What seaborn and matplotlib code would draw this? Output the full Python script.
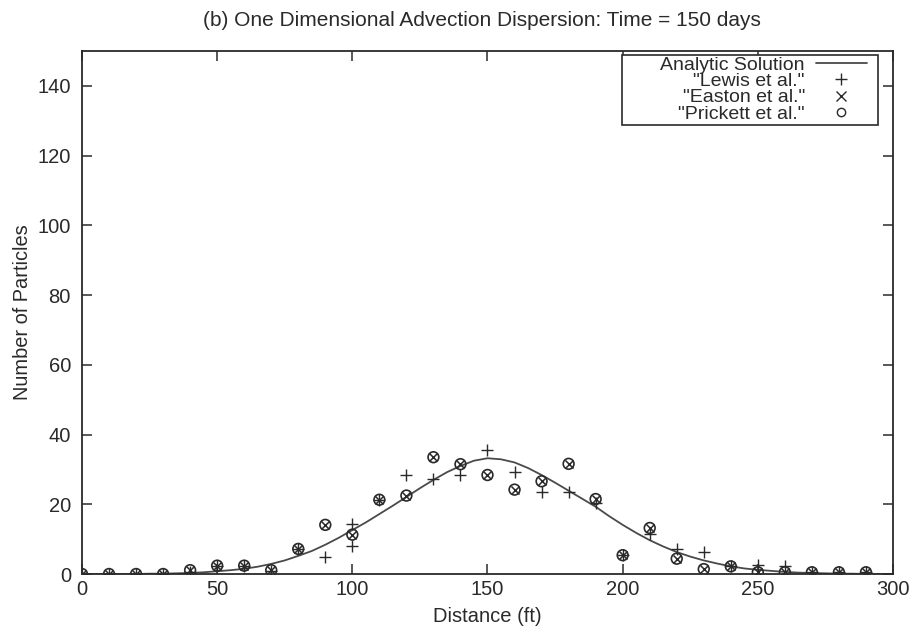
import matplotlib
matplotlib.use("Agg")
import matplotlib.pyplot as plt
from matplotlib.lines import Line2D
from matplotlib.patches import Rectangle
import seaborn as sns

# Analytic solution sampled every 5 ft
curve_x = list(range(0, 305, 5))
curve_y = [0.0, 0.0, 0.0, 0.0, 0.0, 0.1, 0.1, 0.2, 0.3, 0.5,
           0.8, 1.1, 1.5, 2.1, 2.9, 3.9, 5.2, 6.6, 8.4, 10.4,
           12.6, 14.8, 17.2, 19.6, 22.1, 24.6, 27.0, 29.2, 31.0, 32.5,
           33.2, 32.9, 32.0, 30.4, 28.4, 26.2, 23.9, 21.6, 19.3, 16.6,
           14.1, 11.8, 9.7, 7.9, 6.3, 5.0, 3.9, 3.0, 2.2, 1.6,
           1.2, 0.9, 0.6, 0.4, 0.3, 0.2, 0.1, 0.1, 0.0, 0.0, 0.0]

# Lewis et al. particle counts
lewis_x = [0, 10, 20, 30, 40, 50, 60, 70, 80, 90, 100, 100, 110, 120, 130,
           140, 150, 160, 170, 180, 190, 200, 210, 220, 230, 240, 250, 260,
           270, 280, 290]
lewis_y = [0.0, 0.0, 0.0, 0.0, 0.5, 2.2, 2.2, 1.0, 7.2, 5.0, 14.3, 8.1, 21.3,
           28.5, 27.2, 28.5, 35.6, 29.4, 23.4, 23.4, 20.5, 5.4, 11.6, 7.2, 6.2,
           2.4, 2.6, 2.4, 0.5, 0.5, 0.5]

# Easton et al. and Prickett et al. particle counts
ep_x = [0, 10, 20, 30, 40, 50, 60, 70, 80, 90, 100, 110, 120, 130, 140, 150,
        160, 170, 180, 190, 200, 210, 220, 230, 240, 250, 260, 270, 280, 290]
easton_y = [0.0, 0.0, 0.0, 0.0, 1.1, 2.4, 2.4, 1.1, 7.2, 14.1, 11.3, 21.3,
            22.5, 33.5, 31.5, 28.4, 24.2, 26.6, 31.6, 21.5, 5.4, 13.2, 4.4,
            1.4, 2.2, 0.5, 0.5, 0.5, 0.5, 0.5]
prickett_y = list(easton_y)

x_ticks = [0, 50, 100, 150, 200, 250, 300]
y_ticks = [0, 20, 40, 60, 80, 100, 120, 140]

sns.set_style("ticks")
plt.rcParams['font.family'] = ['Liberation Sans', 'DejaVu Sans']

ink = '#2a2a2a'
fig = plt.figure(figsize=(9.09, 6.27), dpi=100)
ax = fig.add_axes([0.0902, 0.0845, 0.8922, 0.8342])

sns.lineplot(x=curve_x, y=curve_y, ax=ax, color='#4a4a4a', linewidth=1.3,
             label='Analytic Solution')
sns.scatterplot(x=lewis_x, y=lewis_y, ax=ax, marker='+', s=70, color=ink,
                linewidth=1.0, label='"Lewis et al."', zorder=3)
sns.scatterplot(x=ep_x, y=easton_y, ax=ax, marker='x', s=34, color=ink,
                linewidth=1.1, label='"Easton et al."', zorder=3)
sns.scatterplot(x=ep_x, y=prickett_y, ax=ax, marker='o', s=60,
                facecolor='none', edgecolor=ink, linewidth=1.2,
                label='"Prickett et al."', zorder=3)

ax.set_xlim(0, 300)
ax.set_ylim(0, 150)
ax.set_xticks(x_ticks)
ax.set_yticks(y_ticks)
ax.tick_params(direction='in', top=True, right=True, length=7, width=1.1,
               labelsize=14.5, colors=ink)
ax.tick_params(axis='x', pad=4)
ax.tick_params(axis='y', pad=8)
for side in ax.spines.values():
    side.set_visible(True)
    side.set_linewidth(1.3)
    side.set_color(ink)

ax.set_title('(b) One Dimensional Advection Dispersion: Time = 150 days',
             fontsize=15, pad=18, color=ink, x=0.493)
ax.set_xlabel('Distance (ft)', fontsize=14.5, color=ink, labelpad=6)
ax.set_ylabel('Number of Particles', fontsize=14.4, color=ink, labelpad=4)

handles, labels = ax.get_legend_handles_labels()
handles[1] = Line2D([], [], linestyle='none', marker='+', markersize=9,
                    color=ink, markeredgewidth=1.0)
handles[2] = Line2D([], [], linestyle='none', marker='x', markersize=7,
                    color=ink, markeredgewidth=1.0)
handles[3] = Line2D([], [], linestyle='none', marker='o', markersize=6,
                    markerfacecolor='none', markeredgecolor=ink,
                    markeredgewidth=1.0)
# symbols on the right, labels flush right against them
leg = ax.legend(handles, labels, loc='upper right',
                bbox_to_anchor=(0.968, 0.9905), borderaxespad=0,
                markerfirst=False, frameon=False, labelspacing=-0.06,
                handlelength=2.65, handletextpad=0.55, borderpad=0,
                fontsize=14.0)
for t in leg.get_texts():
    t.set_color(ink)

# key box, wider on the left than the labels need
ax.add_patch(Rectangle((0.6658, 0.8585), 0.3157, 0.1339,
                       transform=ax.transAxes, fill=True, facecolor='white',
                       edgecolor=ink, linewidth=1.2, zorder=4))
leg.set_zorder(5)

fig.savefig('out.png', dpi=100)
